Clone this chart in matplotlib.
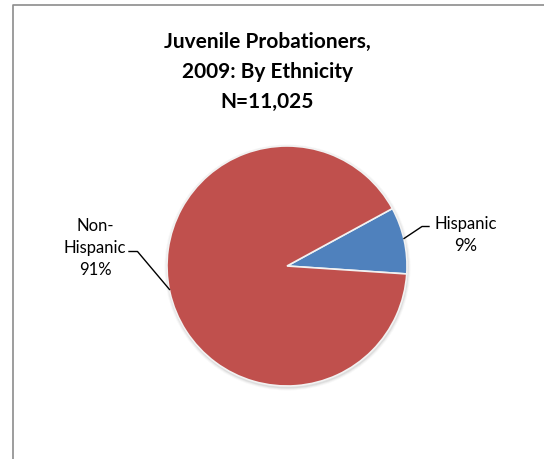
import matplotlib
matplotlib.use('Agg')
import matplotlib.pyplot as plt
from matplotlib.patches import Circle

# Juvenile probationers by ethnicity, 2009 (percent of N=11,025)
categories = ['Hispanic', 'Non-Hispanic']
shares = [9, 91]
colors = ['#4F81BD', '#C0504D']

W, H = 544, 460
fig = plt.figure(figsize=(W / 100, H / 100), dpi=100)
ax = fig.add_axes([0, 0, 1, 1])

# chart frame (top and left edges only show)
ax.plot([12.5, 12.5, W], [0, H - 5.5, H - 5.5], color='#8c8c8c', lw=1.2,
        solid_capstyle='butt')

cx, cy, r = 287, 193, 120

# soft shadow under the pie
for i, a in enumerate([0.10, 0.07, 0.04]):
    ax.add_patch(Circle((cx + 0.5, cy - 1.5), r + 1 + i, color='#606060',
                        alpha=a, lw=0, zorder=1))

wedges, _ = ax.pie(shares, colors=colors, center=(cx, cy), radius=r,
                   startangle=28.6, counterclock=False,
                   wedgeprops=dict(edgecolor='#f2f2f2', linewidth=1.2),
                   frame=True)
for w in wedges:
    w.set_zorder(2)
ax.set_xlim(0, W)
ax.set_ylim(0, H)
ax.set_aspect('equal')
ax.axis('off')

title_font = dict(family=['Lato', 'DejaVu Sans'], fontsize=15, fontweight='bold',
                  color='black', ha='center', va='center')
ax.text(267, H - 42, 'Juvenile Probationers,', **title_font)
ax.text(267, H - 72, '2009: By Ethnicity', **title_font)
ax.text(267, H - 102, 'N=11,025', **title_font)

label_font = dict(family=['Lato', 'DejaVu Sans'], fontsize=12, color='black',
                  ha='center', va='center', linespacing=1.45)

# Hispanic label on the right
ax.text(466, H - 235, f'{categories[0]}\n{shares[0]}%', **label_font)
ax.plot([404, 422, 429], [H - 239.5, H - 227.5, H - 227.5], color='black', lw=1)

# Non-Hispanic label on the left, wrapped after the hyphen
left_name = categories[1].replace('-', '-\n')
ax.text(95, H - 248, f'{left_name}\n{shares[1]}%', **label_font)
ax.plot([129, 137.5, 169.5], [H - 252.5, H - 252.5, H - 290.5], color='black', lw=1)

fig.savefig('out.png', dpi=100)
